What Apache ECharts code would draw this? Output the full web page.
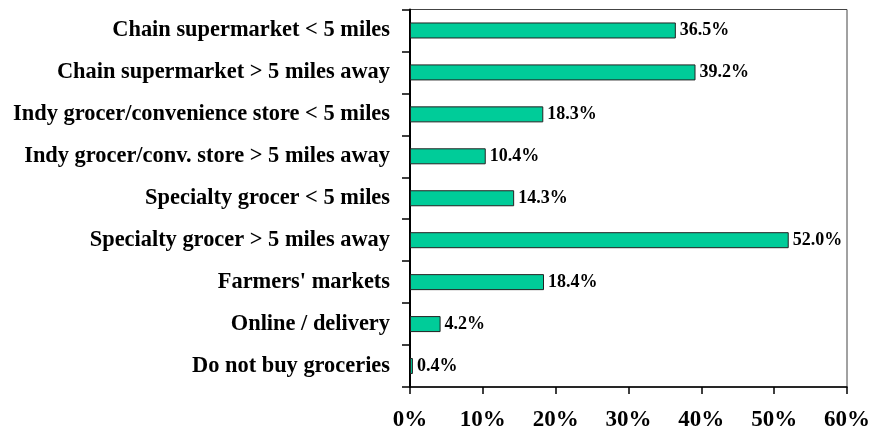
<!DOCTYPE html>
<html>
<head>
<meta charset="utf-8">
<script src="https://cdn.jsdelivr.net/npm/echarts@6/dist/echarts.min.js"></script>
<style>
  html, body { margin: 0; padding: 0; background: #fff; }
  #chart { width: 873px; height: 432px; }
</style>
</head>
<body>
<div id="chart"></div>
<script>
const categories = [
  'Chain supermarket < 5 miles',
  'Chain supermarket > 5 miles away',
  'Indy grocer/convenience store < 5 miles',
  'Indy grocer/conv. store > 5 miles away',
  'Specialty grocer < 5 miles',
  'Specialty grocer > 5 miles away',
  "Farmers' markets",
  'Online / delivery',
  'Do not buy groceries',
];
const shares = [36.5, 39.2, 18.3, 10.4, 14.3, 52.0, 18.4, 4.2, 0.4];
const xTicks = [0, 10, 20, 30, 40, 50, 60];

const font = '"Liberation Serif", "Times New Roman", serif';

const chart = echarts.init(document.getElementById('chart'));
chart.setOption({
  animation: false,
  textStyle: { fontFamily: font },
  grid: {
    left: 410,
    right: 26,
    top: 9.5,
    bottom: 45,
    show: true,
    borderColor: '#444',
    borderWidth: 1,
  },
  xAxis: {
    type: 'value',
    min: xTicks[0],
    max: xTicks[xTicks.length - 1],
    interval: 10,
    splitLine: { show: false },
    axisLine: { show: true, lineStyle: { color: '#000', width: 1.5 } },
    axisTick: { show: true, length: 7, lineStyle: { color: '#000', width: 1.5 } },
    axisLabel: {
      formatter: '{value}%',
      color: '#000',
      fontFamily: font,
      fontWeight: 'bold',
      fontSize: 23,
      margin: 22,
    },
  },
  yAxis: {
    type: 'category',
    data: categories,
    inverse: true,
    axisLine: { show: true, lineStyle: { color: '#000', width: 2 } },
    axisTick: { show: true, length: 8, lineStyle: { color: '#000', width: 1.5 } },
    axisLabel: {
      color: '#000',
      fontFamily: font,
      fontWeight: 'bold',
      fontSize: 22.4,
      margin: 20,
    },
  },
  series: [{
    type: 'bar',
    data: shares,
    barWidth: 16,
    itemStyle: { color: '#00CC99', borderColor: '#222', borderWidth: 1 },
    label: {
      show: true,
      position: 'right',
      distance: 4,
      color: '#000',
      fontFamily: font,
      fontWeight: 'bold',
      fontSize: 18,
      formatter: (p) => p.value.toFixed(1) + '%',
    },
  }],
});
</script>
</body>
</html>
